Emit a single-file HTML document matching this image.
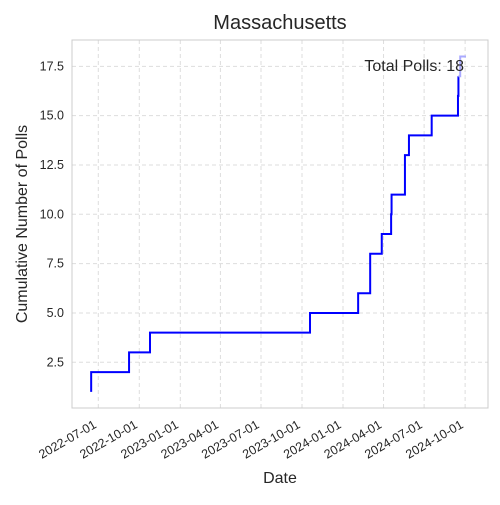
<!DOCTYPE html>
<html><head><meta charset="utf-8"><style>
body{margin:0;background:#fff;}
svg{font-family:"Liberation Sans",Arial,sans-serif;}
</style></head><body>
<svg id="chart" width="500" height="500">
<text x="280" y="29" text-anchor="middle" font-size="20" fill="#262626">Massachusetts</text>
<g id="grid"></g>
<rect x="72" y="40" width="416" height="368" fill="none" stroke="#cccccc" stroke-width="1"/>
<g id="ticks"></g>
<g id="series"></g>
<text x="280" y="483" text-anchor="middle" font-size="16" fill="#262626">Date</text>
<text transform="translate(27,224) rotate(-90)" text-anchor="middle" font-size="16" fill="#262626">Cumulative Number of Polls</text>
<text x="464" y="71" text-anchor="end" font-size="16" fill="#262626">Total Polls: 18</text>
</svg>
<script>
const pollDates=["2022-06-15","2022-06-15","2022-09-08","2022-10-25","2023-10-19","2024-02-04","2024-03-02","2024-03-02","2024-03-28","2024-04-18","2024-04-19","2024-05-19","2024-05-19","2024-05-28","2024-07-18","2024-09-15","2024-09-16","2024-09-20"];
const endDate="2024-10-03";
const xTickLabels=["2022-07-01","2022-10-01","2023-01-01","2023-04-01","2023-07-01","2023-10-01","2024-01-01","2024-04-01","2024-07-01","2024-10-01"];
const yTickValues=[2.5,5.0,7.5,10.0,12.5,15.0,17.5];

const NS="http://www.w3.org/2000/svg";
const t0=Date.parse("2022-07-01");
function X(d){return 98.3+(Date.parse(d)-t0)/86400000*0.4457;}
function Y(v){return 411.6-v*19.73;}
function mk(tag,attrs,parent){const e=document.createElementNS(NS,tag);for(const k in attrs)e.setAttribute(k,attrs[k]);parent.appendChild(e);return e;}
const grid=document.getElementById('grid'),ticks=document.getElementById('ticks'),series=document.getElementById('series');

xTickLabels.forEach(d=>{
  const x=X(d);
  const g=mk('line',{x1:x,x2:x,y1:40,y2:408,stroke:'#dddddd','stroke-dasharray':'4,3'},grid);
  
  
  const tx=x-1,ty=427;
  const t=mk('text',{x:tx,y:ty,'text-anchor':'end','font-size':12.5,fill:'#262626',transform:`rotate(-30 ${tx} ${ty})`},ticks);
  t.textContent=d;
  
  
});
yTickValues.forEach(v=>{
  const y=Y(v);
  const g=mk('line',{x1:72,x2:488,y1:y,y2:y,stroke:'#dddddd','stroke-dasharray':'4,3'},grid);
  
  
  const t=mk('text',{x:64,y:y+4,'text-anchor':'end','font-size':12.5,fill:'#262626'},ticks);
  t.textContent=v.toFixed(1);
  
  
});

let d='M'+X(pollDates[0])+','+Y(1);
for(let i=1;i<pollDates.length-1;i++){
  d+=' H'+X(pollDates[i])+' V'+Y(i+1);
}
const n=pollDates.length;
const p=mk('path',{d:d,fill:'none',stroke:'#0000ff','stroke-width':2},series);


const last=mk('path',{d:'M'+X(pollDates[n-2])+','+Y(n-1)+' H'+X(pollDates[n-1])+' V'+Y(n)+' H'+X(endDate),fill:'none',stroke:'#aaaaff','stroke-width':2},series);


</script>
</body></html>
